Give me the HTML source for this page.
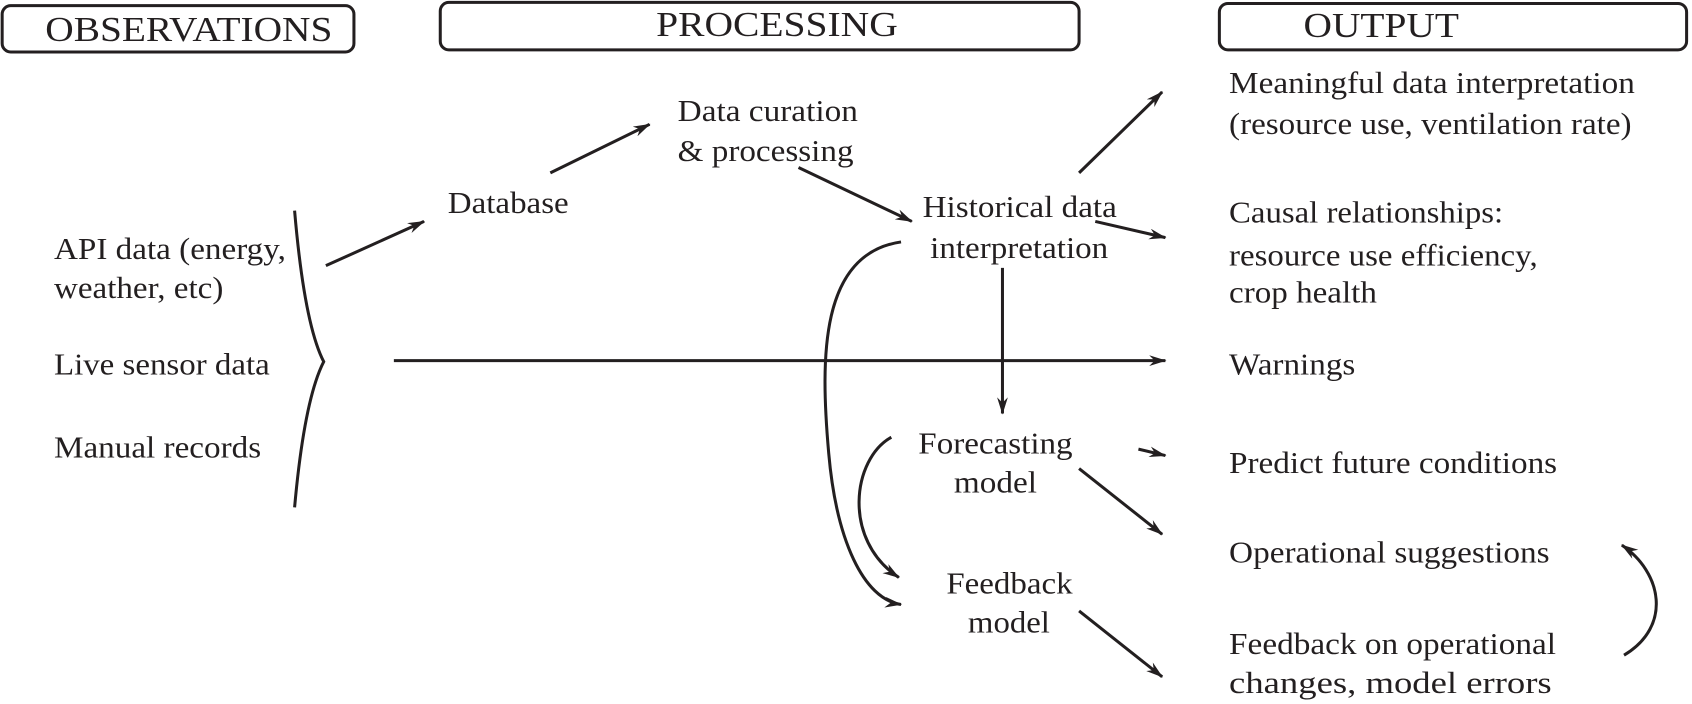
<!DOCTYPE html>
<html><head><meta charset="utf-8"><style>
html,body{margin:0;padding:0;background:#fff;}
svg{display:block}
text{font-family:"Liberation Serif","DejaVu Serif",serif;font-size:28px;fill:#231f20}
.h{font-size:32px}
</style></head><body>
<svg width="1692" height="704" viewBox="0 0 1568 652" xmlns="http://www.w3.org/2000/svg" font-family="Liberation Serif, serif">
<defs>
<marker id="a" viewBox="0 0 16 10" refX="15" refY="5" markerWidth="16" markerHeight="10" markerUnits="userSpaceOnUse" orient="auto">
<path d="M0,0 L16,5 L0,10 L5,5 z" fill="#231f20"/>
</marker>
</defs>
<g fill="none" stroke="#231f20" stroke-width="2.8">
<rect x="2" y="5" width="326" height="43" rx="8"/>
<rect x="408" y="2" width="592" height="44" rx="8"/>
<rect x="1130" y="3" width="433" height="43" rx="8"/>
<path d="M273,195 Q282,300 300,335 Q282,370 273,470"/>
<path d="M302,246 L393,205" marker-end="url(#a)"/>
<path d="M510,160 L602,115" marker-end="url(#a)"/>
<path d="M740,155 L845,205" marker-end="url(#a)"/>
<path d="M1000,160 L1077,85" marker-end="url(#a)"/>
<path d="M1015,205 L1080,220" marker-end="url(#a)"/>
<path d="M365,334 L1080,334" marker-end="url(#a)"/>
<path d="M929,248 L929,383" marker-end="url(#a)"/>
<path d="M835,224 C760,235 760,330 768,420 C775,500 800,555 835,560" marker-end="url(#a)"/>
<path d="M826,405 C790,425 780,500 833,535" marker-end="url(#a)"/>
<path d="M1055,416 L1080,422" marker-end="url(#a)"/>
<path d="M1000,434 L1077,495" marker-end="url(#a)"/>
<path d="M1000,566 L1077,627" marker-end="url(#a)"/>
<path d="M1505,607 C1550,580 1540,530 1503,505" marker-end="url(#a)"/>
</g>
<g lengthAdjust="spacingAndGlyphs">
<text class="h" x="42" y="38" textLength="266" lengthAdjust="spacingAndGlyphs">OBSERVATIONS</text>
<text class="h" x="608" y="33" textLength="224" lengthAdjust="spacingAndGlyphs">PROCESSING</text>
<text class="h" x="1208" y="34" textLength="144" lengthAdjust="spacingAndGlyphs">OUTPUT</text>
<text x="50" y="240" textLength="215" lengthAdjust="spacingAndGlyphs">API data (energy,</text>
<text x="50" y="276" textLength="157" lengthAdjust="spacingAndGlyphs">weather, etc)</text>
<text x="50" y="347" textLength="200" lengthAdjust="spacingAndGlyphs">Live sensor data</text>
<text x="50" y="424" textLength="192" lengthAdjust="spacingAndGlyphs">Manual records</text>
<text x="415" y="197" textLength="112" lengthAdjust="spacingAndGlyphs">Database</text>
<text x="628" y="112" textLength="167" lengthAdjust="spacingAndGlyphs">Data curation</text>
<text x="628" y="149" textLength="163" lengthAdjust="spacingAndGlyphs">&amp; processing</text>
<text x="855" y="201" textLength="180" lengthAdjust="spacingAndGlyphs">Historical data</text>
<text x="862" y="239" textLength="165" lengthAdjust="spacingAndGlyphs">interpretation</text>
<text x="851" y="420" textLength="143" lengthAdjust="spacingAndGlyphs">Forecasting</text>
<text x="884" y="456" textLength="77" lengthAdjust="spacingAndGlyphs">model</text>
<text x="877" y="550" textLength="117" lengthAdjust="spacingAndGlyphs">Feedback</text>
<text x="897" y="586" textLength="76" lengthAdjust="spacingAndGlyphs">model</text>
<text x="1139" y="86" textLength="376" lengthAdjust="spacingAndGlyphs">Meaningful data interpretation</text>
<text x="1139" y="124" textLength="373" lengthAdjust="spacingAndGlyphs">(resource use, ventilation rate)</text>
<text x="1139" y="206" textLength="254" lengthAdjust="spacingAndGlyphs">Causal relationships:</text>
<text x="1139" y="246" textLength="286" lengthAdjust="spacingAndGlyphs">resource use efficiency,</text>
<text x="1139" y="280" textLength="137" lengthAdjust="spacingAndGlyphs">crop health</text>
<text x="1139" y="347" textLength="117" lengthAdjust="spacingAndGlyphs">Warnings</text>
<text x="1139" y="438" textLength="304" lengthAdjust="spacingAndGlyphs">Predict future conditions</text>
<text x="1139" y="521" textLength="297" lengthAdjust="spacingAndGlyphs">Operational suggestions</text>
<text x="1139" y="606" textLength="303" lengthAdjust="spacingAndGlyphs">Feedback on operational</text>
<text x="1139" y="642" textLength="299" lengthAdjust="spacingAndGlyphs">changes, model errors</text>
</g>
</svg>
</body></html>
